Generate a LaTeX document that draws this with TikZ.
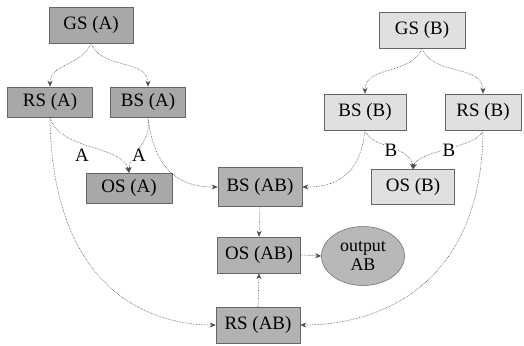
\documentclass[tikz,border=0pt]{standalone}
\usepackage{fontspec}
\setmainfont{Liberation Serif}
\usetikzlibrary{arrows.meta,shapes.geometric}
\definecolor{fillA}{gray}{0.66}
\definecolor{fillB}{gray}{0.88}
\definecolor{fillAB}{gray}{0.70}
\definecolor{fillOut}{gray}{0.72}
\definecolor{edgecol}{gray}{0.30}
\begin{document}
\begin{tikzpicture}[x=1bp,y=-1bp,
  font=\fontsize{19}{21}\selectfont,
  box/.style={rectangle,draw=black!60,line width=0.5bp,inner sep=0pt},
  boxA/.style={box,fill=fillA},
  boxB/.style={box,fill=fillB},
  boxAB/.style={box,fill=fillAB},
  outnode/.style={ellipse,draw=black!60,line width=0.5bp,fill=fillOut,inner sep=0pt,
    minimum width=83bp,minimum height=59bp,align=center,font=\fontsize{18}{19}\selectfont},
  link/.style={densely dotted,draw=edgecol,line width=0.6bp,
    -{Stealth[length=6bp,width=5bp]}},
  elabel/.style={fill=white,inner sep=1bp}]
\useasboundingbox (0,0) rectangle (524,345);

% group A
\node[boxA,minimum width=84bp,minimum height=36bp] (gsa) at (91,25) {GS (A)};
\node[boxA,minimum width=85bp,minimum height=30bp] (rsa) at (50,102) {RS (A)};
\node[boxA,minimum width=75bp,minimum height=30bp] (bsa) at (148,102) {BS (A)};
\node[boxA,minimum width=86bp,minimum height=30bp] (osa) at (129,188) {OS (A)};

% group B
\node[boxB,minimum width=86bp,minimum height=36bp] (gsb) at (422,30) {GS (B)};
\node[boxB,minimum width=82bp,minimum height=36bp] (bsb) at (365,112) {BS (B)};
\node[boxB,minimum width=76bp,minimum height=36bp] (rsb) at (483,112) {RS (B)};
\node[boxB,minimum width=83bp,minimum height=35bp] (osb) at (413,187) {OS (B)};

% combined AB
\node[boxAB,minimum width=84bp,minimum height=39bp] (bsab) at (260,187) {BS (AB)};
\node[boxAB,minimum width=83bp,minimum height=36bp] (osab) at (259,255) {OS (AB)};
\node[boxAB,minimum width=84bp,minimum height=36bp] (rsab) at (258,325) {RS (AB)};
\node[outnode] (out) at (363,256) {output\\AB};

% fan-out from the GS nodes
\draw[link] (gsa.south) to[out=-110,in=90] (rsa.north);
\draw[link] (gsa.south) to[out=-70,in=90] (bsa.north);
\draw[link] (gsb.south) to[out=-110,in=90] (bsb.north);
\draw[link] (gsb.south) to[out=-70,in=90] (rsb.north);

% edges into OS (A) and OS (B)
\draw[link] (rsa.south) .. controls (58,150) and (122,145) .. (osa.north);
\draw[link] (bsa.south) .. controls (152,145) and (130,150) .. (osa.north);
\draw[link] (bsb.south) .. controls (370,148) and (410,145) .. (osb.north);
\draw[link] (rsb.south) .. controls (478,148) and (418,150) .. (osb.north);
\node[elabel] (la1) at (82,155) {A};
\node[elabel] (la2) at (139,155) {A};
\node[elabel] (lb1) at (391,150) {B};
\node[elabel] (lb2) at (449,150) {B};

% edges into the AB nodes
\draw[link] (bsa.south) .. controls (155,180) and (190,187) .. (bsab.west);
\draw[link] (rsa.south) .. controls (52,290) and (150,325) .. (rsab.west);
\draw[link] (bsb.south) .. controls (360,180) and (330,187) .. (bsab.east);
\draw[link] (rsb.south) .. controls (482,285) and (380,325) .. (rsab.east);
\draw[link] (bsab.south) -- (osab.north);
\draw[link] (rsab.north) -- (osab.south);
\draw[link] (osab.east) -- (out.west);
\end{tikzpicture}
\end{document}
